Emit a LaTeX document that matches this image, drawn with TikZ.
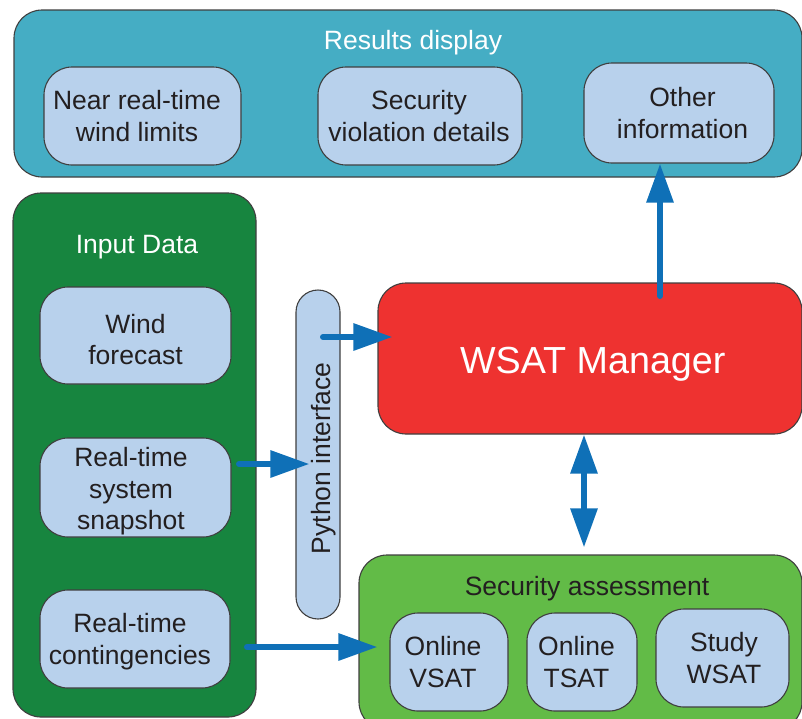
\documentclass[tikz,border=0pt]{standalone}
\usepackage{fontspec}
\setmainfont{Liberation Sans}
\usetikzlibrary{arrows.meta}
\definecolor{cRes}{HTML}{45ADC4}
\definecolor{cIn}{HTML}{17853F}
\definecolor{cBox}{HTML}{B8D1EC}
\definecolor{cRed}{HTML}{EE3230}
\definecolor{cSA}{HTML}{62BB47}
\definecolor{cArr}{HTML}{0F70B7}
\definecolor{cLine}{HTML}{3F3F3F}
\definecolor{cTxt}{HTML}{231F20}
\newcommand{\mystrut}{\rule[-9.5pt]{0pt}{31.5pt}}
\tikzset{
  box/.style={draw=cLine, line width=1.1pt, rounded corners=28pt, inner sep=0pt},
  inbox/.style={box, fill=cBox},
  itext/.style={inner sep=0pt, align=center, text=cTxt, font=\fontsize{26.5}{31.5}\selectfont,
    execute at begin node=\mystrut, execute at end node=\mystrut},
  ttl/.style={inner sep=0pt, anchor=base, font=\fontsize{26.5}{31.5}\selectfont},
  >={Triangle[length=39pt,width=26pt]},
  arr/.style={draw=cArr, line width=6pt, line cap=round, ->},
  darr/.style={draw=cArr, line width=6pt, <->},
}
\begin{document}
\begin{tikzpicture}[x=1pt,y=-1pt]
\useasboundingbox (0,0) rectangle (802,718);
\clip (0,0) rectangle (802,718);
% Results display
\node[box, fill=cRes, minimum width=788pt, minimum height=167pt] (res) at (408,93.5) {};
\node[ttl, text=white] (restitle) at (413,49) {Results display};
\node[inbox, minimum width=197pt, minimum height=98pt] (near) at (142.5,116) {};
\node[itext] (neart) at (137,120.8) {Near real-time\\wind limits};
\node[inbox, minimum width=204pt, minimum height=98pt] (viol) at (420,116) {};
\node[itext] (violt) at (419,120.8) {Security\\violation details};
\node[inbox, minimum width=190pt, minimum height=100pt] (other) at (679,113) {};
\node[itext] (othert) at (682.5,117.8) {Other\\information};
% Input data
\node[box, fill=cIn, minimum width=243pt, minimum height=524pt] (input) at (134.5,455) {};
\node[ttl, text=white] (intitle) at (137,253.3) {Input Data};
\node[inbox, minimum width=191pt, minimum height=97pt] (wind) at (135.5,335.5) {};
\node[itext] (windt) at (135.5,344.3) {Wind\\forecast};
\node[inbox, minimum width=191pt, minimum height=99pt] (snap) at (135.5,487.5) {};
\node[itext] (snapt) at (131,493.5) {Real-time\\system\\snapshot};
\node[inbox, minimum width=190pt, minimum height=98pt] (cont) at (135,639) {};
\node[itext] (contt) at (130,643.5) {Real-time\\contingencies};
% Python interface
\node[inbox, rounded corners=22pt, minimum width=44pt, minimum height=329pt] (py) at (318,454.5) {};
\node[ttl, text=cTxt, rotate=90] (pytext) at (330,458.5) {Python interface};
% WSAT Manager
\node[box, fill=cRed, minimum width=424pt, minimum height=151pt] (wsat) at (590,358.5) {};
\node[inner sep=0pt, anchor=base, text=white, font=\fontsize{37.7}{44}\selectfont] (wsattext) at (592.8,373.3) {WSAT Manager};
% Security assessment
\node[box, fill=cSA, minimum width=443pt, minimum height=175pt] (sa) at (580.5,642.5) {};
\node[ttl, text=cTxt] (satitle) at (587,595.5) {Security assessment};
\node[inbox, minimum width=118pt, minimum height=98pt] (vsat) at (449,662) {};
\node[itext] (vsatt) at (443,666.8) {Online\\VSAT};
\node[inbox, minimum width=110pt, minimum height=98pt] (tsat) at (582,662) {};
\node[itext] (tsatt) at (576.5,666.8) {Online\\TSAT};
\node[inbox, minimum width=133pt, minimum height=98pt] (study) at (722.5,658) {};
\node[itext] (studyt) at (724,662.5) {Study\\WSAT};
% Connectors
\coordinate (s1) at (323,337);
\draw[arr] (s1) -- ([xshift=15pt]s1 -| wsat.west);
\coordinate (s2) at (239,464);
\draw[arr] (s2) -- ([xshift=14pt]s2 -| py.west);
\coordinate (s3) at (247,647);
\draw[arr] (s3) -- ([xshift=19pt]s3 -| sa.west);
\coordinate (s4) at (660,296);
\draw[arr] (s4) -- (s4 |- other.south);
\coordinate (d1) at (584,435);
\draw[darr] (d1 |- wsat.south) -- ([yshift=7pt]d1 |- sa.north);
\end{tikzpicture}
\end{document}
